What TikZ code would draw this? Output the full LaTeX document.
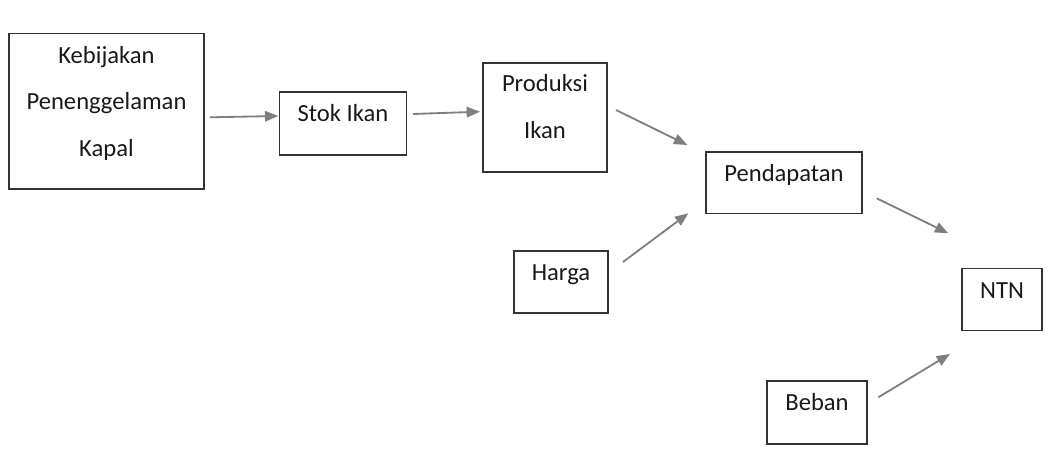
\documentclass[tikz,border=0pt]{standalone}
\usepackage{fontspec}
\setmainfont{Carlito}
\usepackage{tikz}
\usetikzlibrary{arrows.meta}
\definecolor{boxline}{HTML}{333333}
\definecolor{arrowgray}{HTML}{7F7F7F}

\begin{document}
\begin{tikzpicture}[x=0.025cm, y=-0.025cm,
  box/.style={draw=boxline, line width=1.3pt, inner sep=0pt, align=center,
    text height=0.74cm, font=\fontsize{17.5}{33.2}\selectfont, text=black!90},
  flow/.style={draw=arrowgray, line width=1.3pt,
    -{Triangle[length=9.5pt, width=7.5pt]}}]
\useasboundingbox (0,0) rectangle (1052,471);
\node[box, minimum width=4.875cm, text height=3.08cm, text depth=0.81cm] (keb) at (106.5,111.25) {Kebijakan\\Penenggelaman\\Kapal};
\node[box, minimum width=3.175cm, text depth=0.835cm] (stok) at (343,123.5) {Stok Ikan};
\node[box, minimum width=3.1cm, text height=1.875cm, text depth=0.85cm] (prod) at (545,117.5) {Produksi\\Ikan};
\node[box, minimum width=3.91cm, text depth=0.8cm] (pend) at (784,182.75) {Pendapatan};
\node[box, minimum width=2.35cm, text depth=0.81cm] (harga) at (561,282) {Harga};
\node[box, minimum width=2.0cm, text depth=0.81cm] (ntn) at (1002,299.5) {NTN};
\node[box, minimum width=2.5cm, text depth=0.835cm] (beban) at (817,412.5) {Beban};
% free arrow ends
\coordinate (kebout) at (210,117.3);
\coordinate (stokin) at (278.3,116);
\coordinate (stokout) at (413,114);
\coordinate (prodin) at (480,111.7);
\coordinate (prodout) at (616,110);
\coordinate (pendin1) at (687.3,145);
\coordinate (hargaout) at (623,262);
\coordinate (pendin2) at (688.3,213.3);
\coordinate (pendout) at (876.7,198.3);
\coordinate (ntnin1) at (948.3,233.3);
\coordinate (bebanout) at (878.3,397.3);
\coordinate (ntnin2) at (950,354);
\draw[flow] (kebout) -- (stokin);
\draw[flow] (stokout) -- (prodin);
\draw[flow] (prodout) -- (pendin1);
\draw[flow] (hargaout) -- (pendin2);
\draw[flow] (pendout) -- (ntnin1);
\draw[flow] (bebanout) -- (ntnin2);
\end{tikzpicture}
\end{document}
